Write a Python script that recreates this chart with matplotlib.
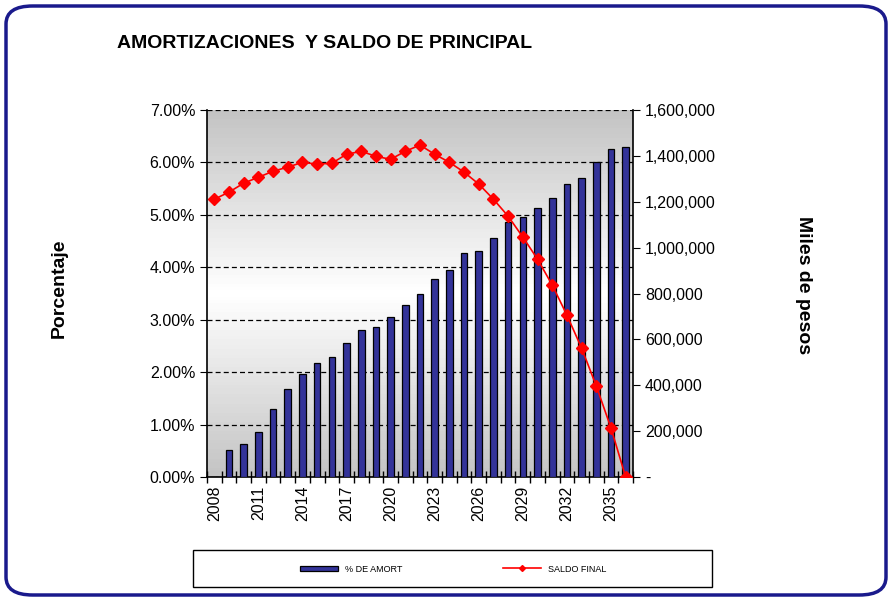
import numpy as np
import matplotlib
matplotlib.use('Agg')
import matplotlib.pyplot as plt
from matplotlib.patches import FancyBboxPatch, Rectangle
from matplotlib.ticker import FuncFormatter, MultipleLocator
from matplotlib.colors import LinearSegmentedColormap

plt.rcParams['font.family'] = ['Liberation Sans', 'DejaVu Sans']

years = list(range(2008, 2037))
pct_amort = [0.0, 0.52, 0.63, 0.86, 1.30, 1.68, 1.97, 2.17, 2.29, 2.56,
             2.80, 2.86, 3.05, 3.28, 3.49, 3.78, 3.95, 4.27, 4.31, 4.56,
             4.87, 4.96, 5.13, 5.32, 5.59, 5.71, 6.01, 6.26, 6.30]
saldo_final = [1211000, 1242000, 1281000, 1307000, 1333000, 1351000, 1372000,
               1364000, 1368000, 1407000, 1420000, 1398000, 1385000, 1420000,
               1447000, 1407000, 1372000, 1329000, 1277000, 1211000, 1137000,
               1046000, 950000, 837000, 706000, 562000, 397000, 214000, 0]

W, H = 891, 599
fig = plt.figure(figsize=(W / 100, H / 100), dpi=100)

# marco redondeado
frame = FancyBboxPatch((6 / W, 4 / H), 880 / W, 589 / H,
                       boxstyle="round,pad=0,rounding_size=0.03",
                       transform=fig.transFigure, fill=False,
                       edgecolor='#1a1a8c', linewidth=2.5)
fig.patches.append(frame)

fig.text(117 / W, 1 - 43 / H, 'AMORTIZACIONES  Y SALDO DE PRINCIPAL',
         fontsize=14, fontweight='bold', va='center', ha='left')

ax = fig.add_axes([207 / W, 1 - 477 / H, 426 / W, 367 / H])
x = np.arange(len(years))

# fondo degradado gris-blanco-gris
grad = np.concatenate([np.linspace(0, 1, 60), np.linspace(1, 0, 60)])[::-1]
cmap = LinearSegmentedColormap.from_list('g', ['#c4c4c4', '#ffffff'])
ax.imshow(grad.reshape(-1, 1), aspect='auto', cmap=cmap,
          extent=[-0.5, len(years) - 0.5, 0, 7], zorder=0, origin='lower')

bars = ax.bar(x, pct_amort, width=0.45, color='#333399', edgecolor='black',
              linewidth=0.9, zorder=3, label='% DE AMORT')
ax.set_xlim(-0.5, len(years) - 0.5)
ax.set_ylim(0, 7)
ax.yaxis.set_major_locator(MultipleLocator(1))
ax.yaxis.set_major_formatter(FuncFormatter(lambda v, p: f'{v:.2f}%'))
ax.grid(axis='y', linestyle=(0, (4, 2.5)), color='black', linewidth=0.9, zorder=1)
ax.set_axisbelow(True)

ax.set_xticks(np.arange(-0.5, len(years), 1), minor=False)
ax.set_xticklabels([])
ax.set_xticks(x[::3], minor=True)
ax.set_xticklabels([str(y) for y in years[::3]], minor=True, rotation=90,
                   fontsize=11.5)
ax.tick_params(axis='x', which='major', direction='inout', length=8, width=1)
ax.tick_params(axis='x', which='minor', length=0, pad=6)
ax.tick_params(axis='y', direction='out', length=5, labelsize=11.5)
for s in ['left', 'bottom']:
    ax.spines[s].set_linewidth(1.2)
ax.spines['top'].set_visible(False)
ax.spines['right'].set_visible(False)

ax.set_ylabel('Porcentaje', fontsize=14, fontweight='bold')

ax2 = ax.twinx()
line, = ax2.plot(x, saldo_final, color='red', marker='D', markersize=6,
                 linewidth=1.2, zorder=5, label='SALDO FINAL')
ax2.set_ylim(0, 1600000)
ax2.yaxis.set_major_locator(MultipleLocator(200000))
ax2.yaxis.set_major_formatter(FuncFormatter(lambda v, p: '-' if v == 0 else f'{int(v):,}'))
ax2.tick_params(axis='y', direction='out', length=5, labelsize=11.5)
ax2.spines['right'].set_linewidth(1.2)
ax2.spines['top'].set_visible(False)
ax2.spines['left'].set_visible(False)
ax2.spines['bottom'].set_visible(False)
ax2.set_ylabel('Miles de pesos', fontsize=14, fontweight='bold', rotation=-90)
ax2.yaxis.set_label_coords(1 + (812 - 633) / 426, 0.5 + (293 - 285) / 367)
ax.yaxis.set_label_coords(-(207 - 68) / 426, 0.5 + (293 - 288) / 367)

# leyenda
fig.patches.append(Rectangle((193 / W, 1 - 587 / H), 519 / W, 37 / H,
                             transform=fig.transFigure, fill=False,
                             edgecolor='black', linewidth=1.0))
ly = 1 - 569 / H
leg1 = fig.legend([bars], ['% DE AMORT'], loc='center left',
                  bbox_to_anchor=(300 / W, ly), frameon=False, fontsize=6.5,
                  borderpad=0, borderaxespad=0, handlelength=4.2,
                  handleheight=0.5, handletextpad=0.8)
leg2 = fig.legend([line], ['SALDO FINAL'], loc='center left',
                  bbox_to_anchor=(503 / W, ly), frameon=False, fontsize=6.5,
                  borderpad=0, borderaxespad=0, handlelength=4.2,
                  handletextpad=0.8)
for lh in leg2.legend_handles:
    lh.set_markersize(3)

fig.savefig('out.png', dpi=100)
